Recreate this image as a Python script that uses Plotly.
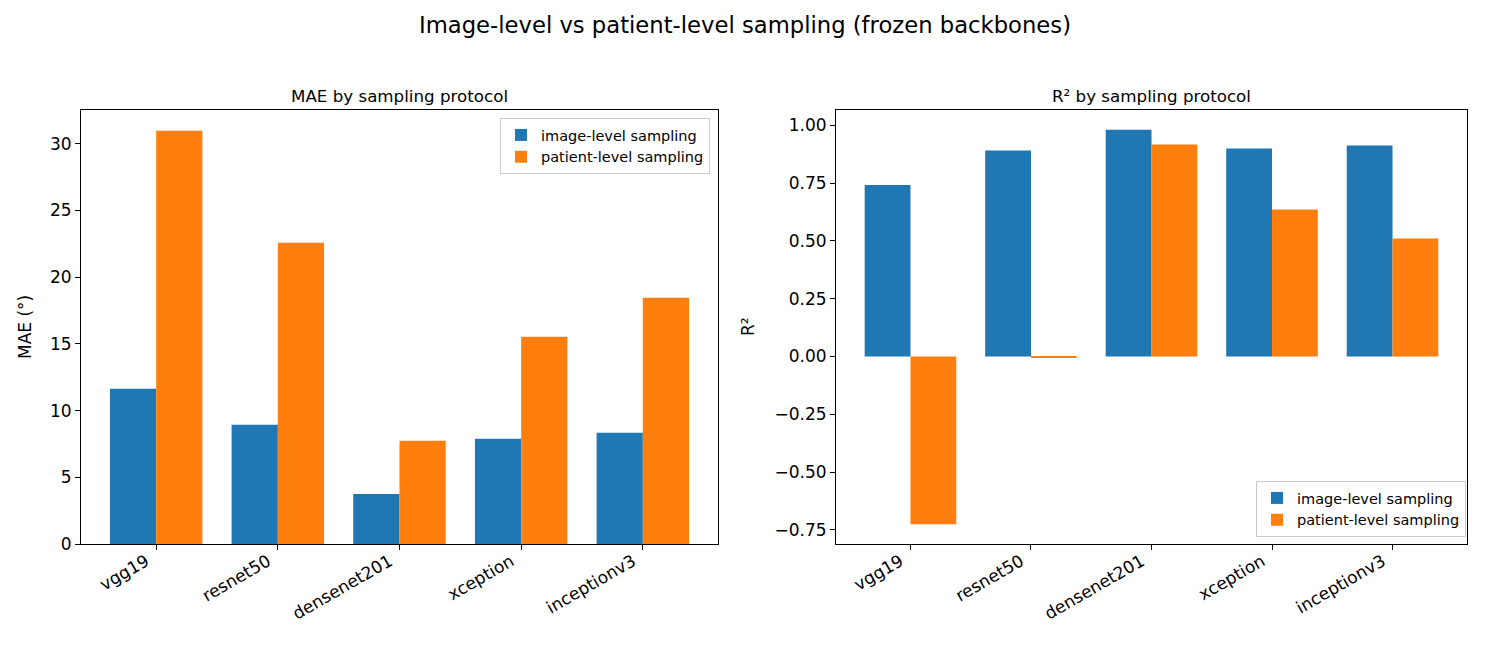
import plotly.graph_objects as go

models = ["vgg19", "resnet50", "densenet201", "xception", "inceptionv3"]
mae_image = [11.63, 8.93, 3.75, 7.88, 8.33]
mae_patient = [30.98, 22.58, 7.73, 15.53, 18.45]
r2_image = [0.742, 0.891, 0.981, 0.899, 0.912]
r2_patient = [-0.726, -0.005, 0.917, 0.636, 0.510]

BLUE = "#1f77b4"
ORANGE = "#ff7f0e"
FONT = "DejaVu Sans"

fig = go.Figure()
fig.add_trace(go.Bar(x=models, y=mae_image, name="image-level sampling", marker_color=BLUE,
                     marker_line_width=0, xaxis="x", yaxis="y", legend="legend"))
fig.add_trace(go.Bar(x=models, y=mae_patient, name="patient-level sampling", marker_color=ORANGE,
                     marker_line_width=0, xaxis="x", yaxis="y", legend="legend"))
fig.add_trace(go.Bar(x=models, y=r2_image, name="image-level sampling", marker_color=BLUE,
                     marker_line_width=0, xaxis="x2", yaxis="y2", legend="legend2"))
fig.add_trace(go.Bar(x=models, y=r2_patient, name="patient-level sampling", marker_color=ORANGE,
                     marker_line_width=0, xaxis="x2", yaxis="y2", legend="legend2"))

# figure slightly smaller than the 1489x652 window so the page never overflows;
# all positions below are given in window pixels
W, H = 1473, 636
def px_x(p): return p / W
def px_y(p): return (H - p) / H

axis_common = dict(showline=True, linecolor="black", linewidth=1, mirror=True,
                   ticks="outside", ticklen=5, tickcolor="black", showgrid=False,
                   zeroline=False, automargin=False,
                   tickfont=dict(family=FONT, size=17, color="black"))
xtick_common = dict(type="category", range=[-0.618, 4.618], tickangle=-30,
                    ticklabelshift=-10, ticklabelstandoff=-5)

xdom1 = [px_x(81), px_x(718)]
xdom2 = [px_x(836), px_x(1467)]
ydom = [px_y(544), px_y(110)]
ymid = (ydom[0] + ydom[1]) / 2

fig.update_layout(
    width=W, height=H,
    margin=dict(l=0, r=0, t=0, b=0, autoexpand=False),
    paper_bgcolor="white", plot_bgcolor="white",
    barmode="group", bargap=0.24, bargroupgap=0,
    font=dict(family=FONT, color="black"),
    xaxis=dict(domain=xdom1, anchor="y", **xtick_common, **axis_common),
    yaxis=dict(domain=ydom, anchor="x", range=[0, 32.53], dtick=5, tick0=0, **axis_common),
    xaxis2=dict(domain=xdom2, anchor="y2", **xtick_common, **axis_common),
    yaxis2=dict(domain=ydom, anchor="x2", range=[-0.811, 1.066], dtick=0.25, tick0=0,
                tickformat=".2f", **axis_common),
    legend=dict(x=px_x(710), y=px_y(118), xanchor="right", yanchor="top",
                bordercolor="#cccccc", borderwidth=1, bgcolor="rgba(255,255,255,0.8)",
                font=dict(family=FONT, size=14.5), tracegroupgap=0),
    legend2=dict(x=px_x(1466), y=px_y(537), xanchor="right", yanchor="bottom",
                 bordercolor="#cccccc", borderwidth=1, bgcolor="rgba(255,255,255,0.8)",
                 font=dict(family=FONT, size=14.5), tracegroupgap=0),
    annotations=[
        dict(text="Image-level vs patient-level sampling (frozen backbones)",
             x=px_x(744.5), y=px_y(25), xref="paper", yref="paper", showarrow=False,
             xanchor="center", yanchor="middle", font=dict(family=FONT, size=22.7)),
        dict(text="MAE by sampling protocol", x=(xdom1[0] + xdom1[1]) / 2, y=px_y(108),
             xref="paper", yref="paper", showarrow=False, xanchor="center", yanchor="bottom",
             font=dict(family=FONT, size=16.7)),
        dict(text="R² by sampling protocol", x=(xdom2[0] + xdom2[1]) / 2, y=px_y(108),
             xref="paper", yref="paper", showarrow=False, xanchor="center", yanchor="bottom",
             font=dict(family=FONT, size=16.7)),
        dict(text="MAE (°)", x=px_x(25), y=ymid, xref="paper", yref="paper", showarrow=False,
             textangle=-90, xanchor="center", yanchor="middle", font=dict(family=FONT, size=17)),
        dict(text="R²", x=px_x(748), y=ymid, xref="paper", yref="paper", showarrow=False,
             textangle=-90, xanchor="center", yanchor="middle", font=dict(family=FONT, size=17)),
    ],
)

fig.write_html("out.html")
